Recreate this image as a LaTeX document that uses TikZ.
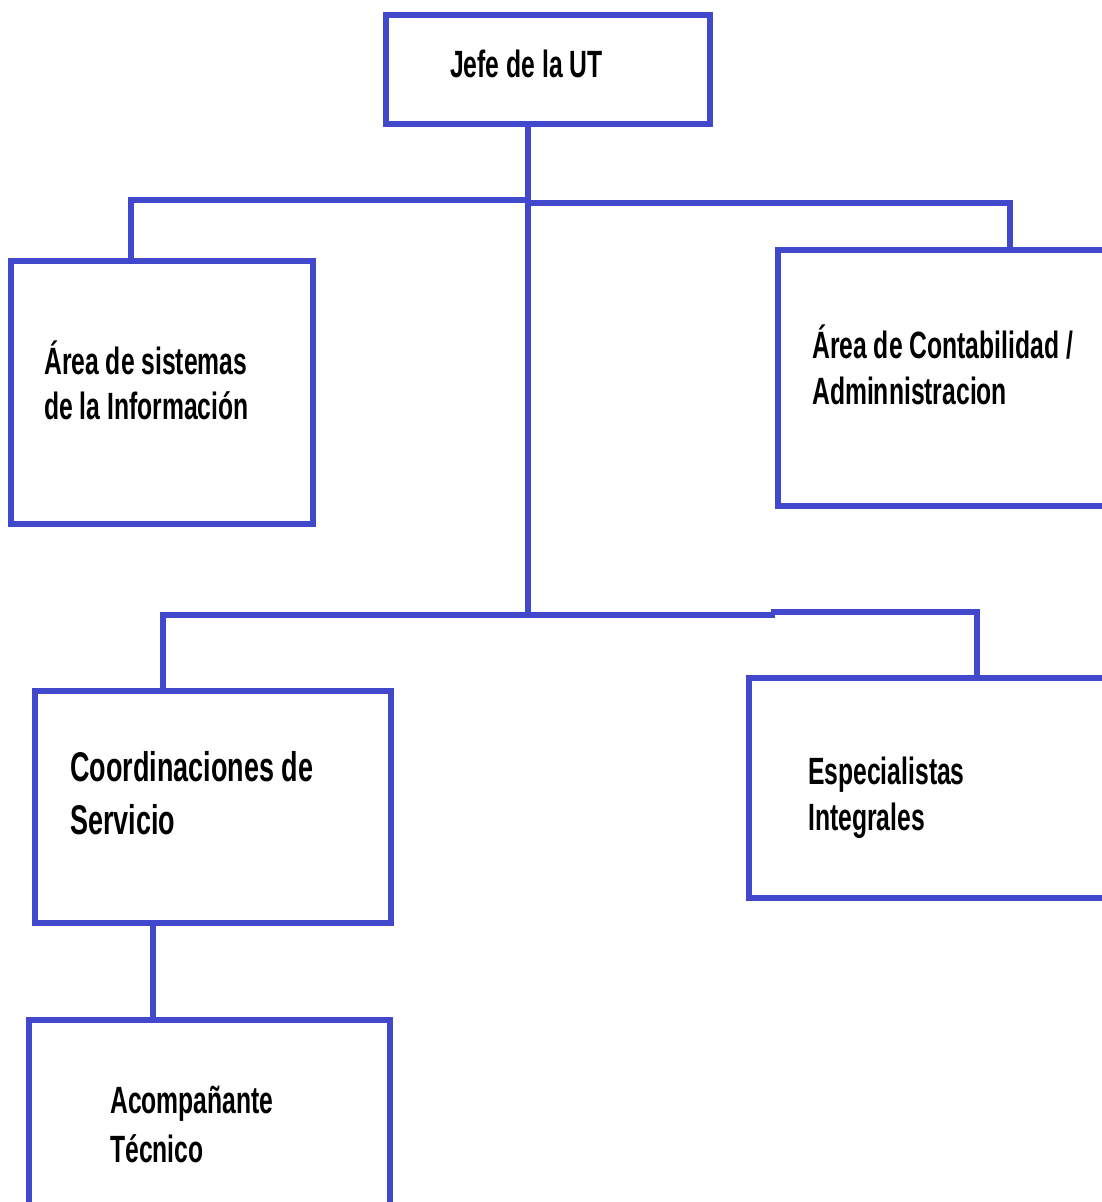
\documentclass[tikz,border=0pt]{standalone}
\usepackage{fontspec}
\setmainfont{Liberation Sans}[FakeStretch=0.65]
\definecolor{orgblue}{RGB}{66,72,204}
\begin{document}
\begin{tikzpicture}[x=1pt,y=-1pt,
  box/.style={draw=orgblue,line width=6.5pt,rectangle,inner sep=0pt,minimum width=#1},
  conn/.style={draw=orgblue,line width=6.5pt},
  lbl/.style={anchor=base west,inner sep=0pt,font=\fontsize{38}{45}\selectfont\bfseries},
  lblbig/.style={anchor=base west,inner sep=0pt,font=\fontsize{41.5}{50}\selectfont\bfseries}]
\useasboundingbox (0,0) rectangle (1102,1202);
\clip (0,0) rectangle (1102,1202);
% boxes
\node[box=324pt,minimum height=109pt] (jefe) at (548,69.5) {};
\node[box=302pt,minimum height=263pt] (sis) at (162,392.5) {};
\node[box=352pt,minimum height=256pt] (cont) at (954,378) {};
\node[box=356pt,minimum height=232pt] (coord) at (213,807) {};
\node[box=381pt,minimum height=220pt] (esp) at (939.5,788) {};
\node[box=361pt,minimum height=210pt] (acomp) at (209.5,1125) {};
% labels
\node[lbl] (jefeT) at (450,77) {Jefe de la UT};
\node[lbl] (sisT1) at (44,374) {Área de sistemas};
\node[lbl] (sisT2) at (44,419) {de la Información};
\node[lbl] (contT1) at (812,358) {Área de Contabilidad /};
\node[lbl] (contT2) at (812,404) {Adminnistracion};
\node[lblbig] (coordT1) at (70,781) {Coordinaciones de};
\node[lblbig] (coordT2) at (70,834) {Servicio};
\node[lbl] (espT1) at (808,784) {Especialistas};
\node[lbl] (espT2) at (808,830) {Integrales};
\node[lbl] (acompT1) at (110,1113) {Acompañante};
\node[lbl] (acompT2) at (110,1162) {Técnico};
% bus coordinates
\coordinate (tl) at (131,200);
\coordinate (tm) at (528,200);
\coordinate (tm2) at (528,203);
\coordinate (tr) at (1010,203);
\coordinate (bm) at (528,614);
\coordinate (bl) at (163,615);
\coordinate (bmid) at (775,615);
\coordinate (bmid2) at (771,612);
\coordinate (br) at (977,612);
\coordinate (cl) at (153,923);
% connectors
\draw[conn] (tm |- jefe.south) -- (bm);
\draw[conn] (tl |- sis.north) -- (tl) -- (tm);
\draw[conn] (tm2) -- (tr) -- (tr |- cont.north);
\draw[conn] (bl |- coord.north) -- (bl) -- (bmid);
\draw[conn] (bmid2) -- (br) -- (br |- esp.north);
\draw[conn] (cl |- coord.south) -- (cl |- acomp.north);
\end{tikzpicture}
\end{document}
